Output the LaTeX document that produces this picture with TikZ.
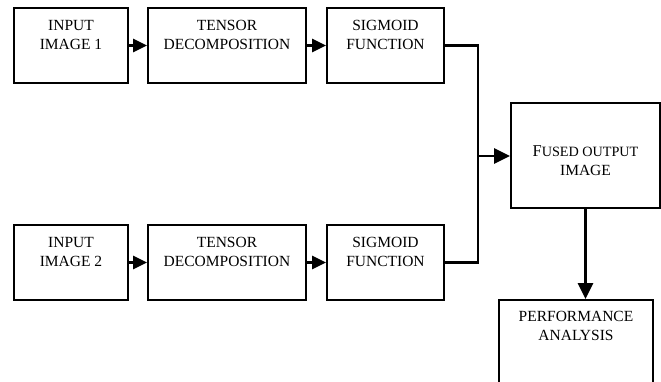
\documentclass[tikz,border=0pt]{standalone}
\usepackage{fontspec}
\setmainfont{Liberation Serif}
\usetikzlibrary{arrows.meta,calc}
\begin{document}
\begin{tikzpicture}[x=1pt,y=-1pt,
  box/.style={draw,line width=1.8pt,inner sep=0pt,fill=white},
  lbl/.style={inner sep=0pt,align=center,anchor=north,font=\fontsize{15.5}{19}\selectfont},
  conn/.style={line width=2.6pt},
  smallarr/.style={conn,-{Triangle[length=14pt,width=13pt]}},
  bigarr/.style={conn,-{Triangle[length=16pt,width=15pt]}}]
\path[use as bounding box] (0,0) rectangle (661,381);
\clip (0,0) rectangle (661,381);
% top row
\node[box,minimum width=114,minimum height=75] (in1) at (71,45.5) {};
\node[box,minimum width=158,minimum height=75] (td1) at (227,45.5) {};
\node[box,minimum width=117,minimum height=75] (sg1) at (385.5,45.5) {};
% bottom row
\node[box,minimum width=114,minimum height=75] (in2) at (71,262.5) {};
\node[box,minimum width=158,minimum height=75] (td2) at (227,262.5) {};
\node[box,minimum width=117,minimum height=75] (sg2) at (385.5,262.5) {};
% right
\node[box,minimum width=149,minimum height=105] (fused) at (585.5,155.5) {};
\node[box,minimum width=154,minimum height=100] (perf) at (576,350) {};
% labels
\node[lbl] (tin1) at ($(in1.north)+(0,13)$) {INPUT\\IMAGE 1};
\node[lbl] (ttd1) at ($(td1.north)+(0,13)$) {TENSOR\\DECOMPOSITION};
\node[lbl] (tsg1) at ($(sg1.north)+(0,13)$) {SIGMOID\\FUNCTION};
\node[lbl] (tin2) at ($(in2.north)+(0,13)$) {INPUT\\IMAGE 2};
\node[lbl] (ttd2) at ($(td2.north)+(0,13)$) {TENSOR\\DECOMPOSITION};
\node[lbl] (tsg2) at ($(sg2.north)+(0,13)$) {SIGMOID\\FUNCTION};
\node[lbl] (tfu) at ($(fused.north)+(0,43.5)$) {{\fontsize{16.5}{19}\selectfont F}{\fontsize{14.2}{19}\selectfont USED OUTPUT}\\IMAGE};
\node[lbl] (tpe) at ($(perf.north)+(0,12)$) {PERFORMANCE\\ANALYSIS};
% connectors
\coordinate (j) at (478,156);
\draw[smallarr] (in1) -- (td1);
\draw[smallarr] (td1) -- (sg1);
\draw[smallarr] (in2) -- (td2);
\draw[smallarr] (td2) -- (sg2);
\draw[conn] (sg1.east) -| (j);
\draw[conn] (sg2.east) -| (j);
\draw[bigarr] (j) -- (j -| fused.west);
\draw[bigarr] (fused.south) -- (fused.south |- perf.north);
\end{tikzpicture}
\end{document}
